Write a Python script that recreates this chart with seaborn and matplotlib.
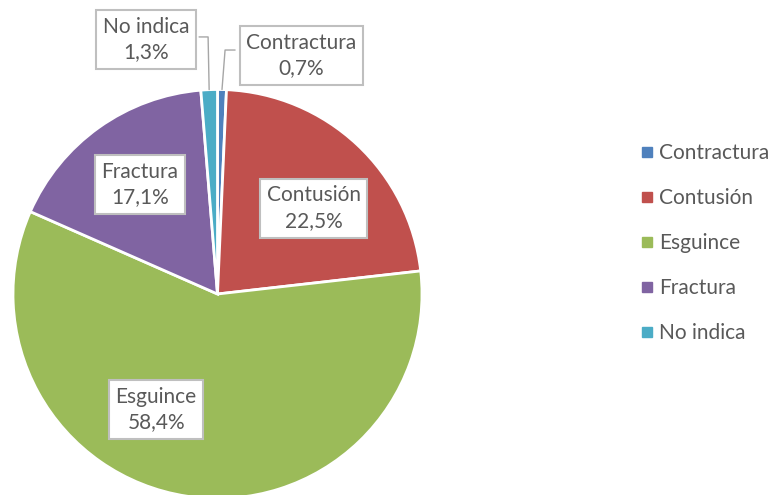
import numpy as np
import matplotlib
matplotlib.use("Agg")
import matplotlib.pyplot as plt
import seaborn as sns
from matplotlib.lines import Line2D

# ---------------------------------------------------
# DATA
# ---------------------------------------------------

categories = ["Contractura", "Contusión", "Esguince", "Fractura", "No indica"]
shares = [0.7, 22.5, 58.4, 17.1, 1.3]
pct_labels = ["0,7%", "22,5%", "58,4%", "17,1%", "1,3%"]

colors = ["#4F81BD", "#C0504D", "#9BBB59", "#8064A2", "#4BACC6"]

# label box centres (pie data units, radius = 1)
label_pos = [(0.41, 1.165), (0.47, 0.42), (-0.30, -0.565), (-0.38, 0.535), (-0.35, 1.245)]
# leader lines for the small slices: (elbow x, elbow y, box edge x)
leaders = {0: (0.037, 1.193, 0.086), 4: (-0.046, 1.257, -0.09)}

# ---------------------------------------------------
# FIGURE
# ---------------------------------------------------

sns.set_style("white")
plt.rcParams["font.family"] = ["Lato", "DejaVu Sans"]
text_color = "#595959"
fsize = 15

W, H = 777, 495
fig = plt.figure(figsize=(W / 100, H / 100), dpi=100)

cx, cy, r = 217.5, 294, 204.5
ax = fig.add_axes([(cx - r) / W, (H - cy - r) / H, 2 * r / W, 2 * r / H])

wedges, _ = ax.pie(
    shares,
    colors=colors,
    startangle=90,
    counterclock=False,
    radius=1,
    wedgeprops=dict(edgecolor="white", linewidth=2),
)

ax.set_xlim(-1, 1)
ax.set_ylim(-1, 1)
ax.set_aspect("auto")
ax.axis("off")

for i, w in enumerate(wedges):
    x, y = label_pos[i]
    ax.text(
        x, y, f"{categories[i]}\n{pct_labels[i]}",
        ha="center", va="center", fontsize=fsize, color=text_color,
        linespacing=1.35, clip_on=False,
        bbox=dict(boxstyle="square,pad=0.32", facecolor="white",
                  edgecolor="#BFBFBF", linewidth=1.5),
        zorder=5,
    )
    if i in leaders:
        mid = np.deg2rad((w.theta1 + w.theta2) / 2)
        ex, ey, bx = leaders[i]
        ax.plot([np.cos(mid), ex, bx], [np.sin(mid), ey, ey],
                color="#A6A6A6", linewidth=1, clip_on=False, zorder=4)

# ---------------------------------------------------
# LEGEND
# ---------------------------------------------------

handles = [
    Line2D([0], [0], marker="s", linestyle="", markersize=7,
           markerfacecolor=c, markeredgecolor=c)
    for c in colors
]
leg = fig.legend(
    handles, categories,
    loc="center left", bbox_to_anchor=(623 / W, 1 - 243 / H),
    frameon=False, fontsize=fsize, labelcolor=text_color,
    handlelength=0.5, handletextpad=0.35, labelspacing=1.2,
)

fig.savefig("out.png", dpi=100)
